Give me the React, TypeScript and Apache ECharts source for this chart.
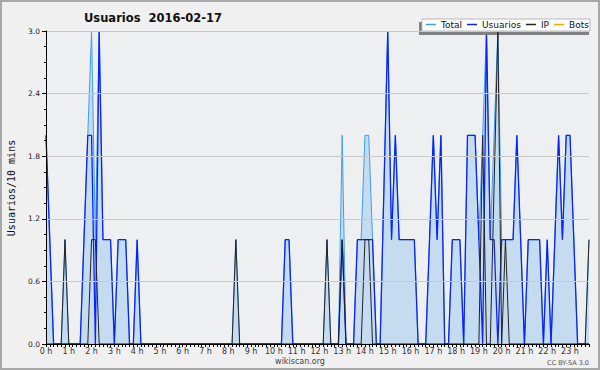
import React, { useEffect, useRef } from "react";
import * as echarts from "echarts";

const HOURS = ["0","1","2","3","4","5","6","7","8","9","10","11","12","13","14","15","16","17","18","19","20","21","22","23"];
const MINUTES = ["00","10","20","30","40","50"];
const categories: string[] = HOURS.flatMap((h) => MINUTES.map((m) => `${h}:${m}`));

const totalValues = [
  2,1,0,0,0,1,0,0,0,0,1,2,
  3,1,3,1,1,1,0,1,1,1,0,0,
  1,0,0,0,0,0,0,0,0,0,0,0,
  0,0,0,0,0,0,0,0,0,0,0,0,
  0,0,1,0,0,0,0,0,0,0,0,0,
  0,0,0,1,1,0,0,0,0,0,0,0,
  0,0,1,0,0,0,2,0,0,0,1,1,
  2,2,1,0,0,1.5,3,1,2,1,1,1,
  1,1,0,0,0,1,2,1,2,0,0,1,
  1,1,0,2,2,2,1,2,3,1,2,3,
  1,1,1,1,2,1,0,1,1,1,1,0,
  1,0,1,2,1,2,2,1,0,0,0,1,
];
const usuariosValues = [
  2,1,0,0,0,0,0,0,0,0,1,2,
  2,0,3,1,1,1,0,1,1,1,0,0,
  1,0,0,0,0,0,0,0,0,0,0,0,
  0,0,0,0,0,0,0,0,0,0,0,0,
  0,0,0,0,0,0,0,0,0,0,0,0,
  0,0,0,1,1,0,0,0,0,0,0,0,
  0,0,0,0,0,0,1,0,0,0,1,1,
  1,1,1,0,0,1.5,3,1,2,1,1,1,
  1,1,0,0,0,1,2,1,2,0,0,1,
  1,1,0,2,2,2,1,0,3,1,1,0,
  1,1,1,1,2,1,0,1,1,1,1,0,
  1,0,1,2,1,2,2,1,0,0,0,0,
];
const ipValues = [
  0,0,0,0,0,1,0,0,0,0,0,0,
  1,1,0,0,0,0,0,0,0,0,0,0,
  0,0,0,0,0,0,0,0,0,0,0,0,
  0,0,0,0,0,0,0,0,0,0,0,0,
  0,0,1,0,0,0,0,0,0,0,0,0,
  0,0,0,0,0,0,0,0,0,0,0,0,
  0,0,1,0,0,0,1,0,0,0,0,0,
  1,1,0,0,0,0,0,0,0,0,0,0,
  0,0,0,0,0,0,0,0,0,0,0,0,
  0,0,0,0,0,0,0,2,0,0,1.5,3,
  0,1,0,0,0,0,0,0,0,0,0,0,
  0,0,0,0,0,0,0,0,0,0,0,1,
];
const botsValues = [
  0,0,0,0,0,0,0,0,0,0,0,0,
  0,0,0,0,0,0,0,0,0,0,0,0,
  0,0,0,0,0,0,0,0,0,0,0,0,
  0,0,0,0,0,0,0,0,0,0,0,0,
  0,0,0,0,0,0,0,0,0,0,0,0,
  0,0,0,0,0,0,0,0,0,0,0,0,
  0,0,0,0,0,0,0,0,0,0,0,0,
  0,0,0,0,0,0,0,0,0,0,0,0,
  0,0,0,0,0,0,0,0,0,0,0,0,
  0,0,0,0,0,0,0,0,0,0,0,0,
  0,0,0,0,0,0,0,0,0,0,0,0,
  0,0,0,0,0,0,0,0,0,0,0,0,
];
const seriesNames = ["Total", "Usuarios", "IP", "Bots"];

const FONT = "'DejaVu Sans', sans-serif";

export default function App() {
  const ref = useRef<HTMLDivElement>(null);
  useEffect(() => {
    document.body.style.margin = "0";
    const chart = echarts.init(ref.current!, null, { renderer: "svg" });
    const mk = (name: string, data: number[], color: string, width: number, extra: any = {}) => ({
      name,
      type: "line",
      data,
      color,
      showSymbol: false,
      symbol: "none",
      lineStyle: { color, width },
      itemStyle: { color },
      emphasis: { disabled: true },
      ...extra,
    });
    chart.setOption({
      animation: false,
      backgroundColor: "#f0f0f0",
      textStyle: { fontFamily: FONT },
      title: {
        text: "Usuarios  2016-02-17",
        left: 84,
        top: 12,
        padding: 0,
        textStyle: { fontSize: 11.5, fontWeight: "bold", color: "#111", fontFamily: FONT },
      },
      legend: {
        data: seriesNames,
        left: 426,
        top: 20,
        padding: 0,
        itemGap: 5,
        itemWidth: 10,
        itemHeight: 1.5,
        icon: "rect",
        textStyle: { fontSize: 9, color: "#111", fontFamily: FONT },
        z: 5,
      },
      grid: {
        left: 46,
        top: 31,
        width: 543,
        height: 313,
        show: true,
        backgroundColor: "#edeff1",
        borderWidth: 0,
      },
      xAxis: {
        type: "category",
        data: categories,
        boundaryGap: false,
        z: 10,
        axisLine: { lineStyle: { color: "#000", width: 1 } },
        axisTick: { interval: 0, length: 3, lineStyle: { color: "#000" } },
        axisLabel: {
          interval: 5,
          margin: 3,
          fontSize: 8,
          color: "#333",
          formatter: (v: string) => v.split(":")[0] + " h",
        },
        splitLine: { show: false },
      },
      yAxis: {
        type: "value",
        min: 0,
        max: 3,
        interval: 0.6,
        z: 10,
        axisLine: { show: true, lineStyle: { color: "#000", width: 1 } },
        axisTick: { show: true, length: 4, lineStyle: { color: "#000" } },
        minorTick: { show: true, splitNumber: 4, length: 2, lineStyle: { color: "#000" } },
        splitLine: { lineStyle: { color: "#c8c8c8", width: 1 } },
        axisLabel: {
          margin: 6,
          fontSize: 7.5,
          color: "#222",
          formatter: (v: number) => v.toFixed(1),
        },
      },
      series: [
        mk("Total", totalValues, "#3d9ef0", 1, { areaStyle: { color: "#c5dcf0", opacity: 1 }, z: 1 }),
        mk("Usuarios", usuariosValues, "#0a24f5", 1.3, { z: 2 }),
        mk("IP", ipValues, "#222222", 1, { z: 3 }),
        mk("Bots", botsValues, "#ffa500", 1, { z: 1 }),
      ],
      graphic: [
        { type: "rect", z: 0, shape: { x: 1, y: 1, width: 598, height: 368 }, style: { fill: "none", stroke: "#a8a8a8", lineWidth: 2 } },
        { type: "rect", z: 3, shape: { x: 419, y: 22, width: 170, height: 13 }, style: { fill: "#808080" } },
        { type: "rect", z: 3, shape: { x: 422, y: 19, width: 168, height: 12 }, style: { fill: "#ffffff", stroke: "#b8b8b8", lineWidth: 1 } },
        {
          type: "text", z: 5, x: 11, y: 188, rotation: Math.PI / 2,
          style: { text: "Usuarios/10 mins", fontFamily: "'DejaVu Sans Mono', monospace", fontSize: 10, fill: "#111", textAlign: "center", textVerticalAlign: "middle" },
        },
        {
          type: "text", z: 5, x: 300, y: 361,
          style: { text: "wikiscan.org", fontFamily: FONT, fontSize: 8, fill: "#444", textAlign: "center", textVerticalAlign: "middle" },
        },
        {
          type: "text", z: 5, x: 589, y: 363,
          style: { text: "CC BY-SA 3.0", fontFamily: FONT, fontSize: 6.5, fill: "#555", textAlign: "right", textVerticalAlign: "middle" },
        },
      ],
    });
    return () => chart.dispose();
  }, []);
  return <div ref={ref} style={{ position: "fixed", left: 0, top: 0, width: 600, height: 370 }} />;
}
